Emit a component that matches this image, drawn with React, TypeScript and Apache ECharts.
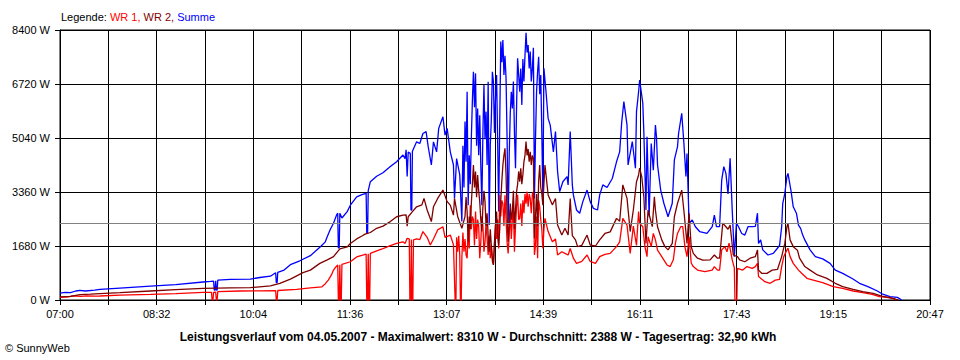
import React, { useEffect, useRef } from "react";
import * as echarts from "echarts";

// x = minutes after 07:00, y = power in W
const timeLabels = ["07:00", "08:32", "10:04", "11:36", "13:07", "14:39", "16:11", "17:43", "19:15", "20:47"];
const SPAN_MINUTES = 827; // 07:00 -> 20:47
const GRID_STEPS = 18;
const Y_MAX = 8400;
const Y_STEP = 1680;
const AVERAGE_W = 2388;
const legendText = ["Legende: ", "WR 1, ", "WR 2, ", "Summe"];
const footerTitle =
  "Leistungsverlauf vom 04.05.2007 - Maximalwert: 8310 W - Durchschnitt: 2388 W - Tagesertrag: 32,90 kWh";
const copyright = "© SunnyWeb";

const wr1: [number, number][] = [
  [0, 85], [8, 95], [12, 130], [20, 110], [25, 130], [33, 120], [38, 125], [57, 150], [86, 175], [110, 200], [136, 235],
  [144, 240], [144.6, 0], [145.4, 0], [146, 240], [148, 245], [148.6, 0], [149.4, 0], [150, 260],
  [171, 280], [190, 285], [205, 290], [205.6, 0], [206.4, 0], [207, 295], [225, 330], [238, 380], [249, 410], [252, 500], [255, 620], [258, 780], [260, 930], [262, 1020], [264, 1090],
  [264.6, 0], [265.4, 0], [266, 1100], [266.6, 0], [267.4, 0], [268, 1110], [276, 1190], [282, 1340], [291, 1430],
  [291.6, 0], [292.4, 0], [293, 1440], [293.6, 0], [294.4, 0], [295, 1450], [301, 1530], [307, 1600], [314, 1690], [320, 1760], [326, 1810], [328, 1760], [330, 1920], [332, 1900],
  [332.6, 0], [333.4, 0], [334, 1880], [334.6, 0], [335.4, 0], [336, 1870], [339, 1900], [342, 1880], [345, 2130], [349, 1950], [352, 1710], [355, 1900], [359, 2180], [364, 2280], [366, 1950], [371, 2020], [374, 1720],
  [375.6, 0], [376.4, 0], [377, 1950], [378, 1500], [379, 2000], [380, 1400], [380.6, 0], [381.4, 0], [382, 1300], [383, 2100], [384, 1500], [385, 1900], [386, 1400], [387, 1300], [388, 2200], [389, 1600], [390, 2950], [391, 2200], [392, 2600], [393, 2500], [394, 1700], [395, 2750], [396, 1900], [397, 2500], [398, 2300], [399, 1300], [400, 1800], [401, 2600], [402, 2300], [403, 1500], [404, 1800], [405, 2400], [406, 1900], [407, 1400], [408, 2000], [409, 1300], [410, 1700], [411, 1200], [412, 1100], [413, 1700], [414, 2400], [415, 1900], [416, 2500], [417, 1600], [418, 3270], [419, 2600], [420, 3100], [421, 3000], [422, 2300], [423, 3260], [424, 2500], [425, 1800], [426, 1450], [427, 2000], [428, 2800], [429, 1900], [430, 2500], [431, 2900], [432, 1500], [433, 2300], [434, 2900], [435, 3270], [436, 2500], [437, 2540], [438, 3000], [439, 2300], [440, 3100], [441, 2700], [442, 3300], [443, 3000], [444, 3370], [445, 2900], [446, 3300], [447, 3160], [448, 2700], [449, 3300], [450, 3370], [451, 1400], [452, 1700], [453, 2600], [454, 1300], [455, 3100], [456, 2900], [457, 2500], [458, 2200], [459, 1600], [460, 2200], [461, 2540], [464, 2130], [468, 1810], [471, 1900], [473, 1400], [477, 1500], [480, 1450], [483, 1400], [485, 1600], [488, 1300], [491, 1140], [496, 1200], [501, 1400], [504, 1200], [509, 1140], [513, 1350], [518, 1420], [523, 1450], [529, 1660], [532, 1810], [535, 2540], [539, 2330], [542, 1450], [545, 2300], [548, 1700], [550, 2750], [551, 2385], [554, 2280], [556, 1660], [558, 1350], [559, 1970], [562, 1660], [564, 2070], [566, 1870], [568, 1550], [572, 1350], [577, 1090], [580, 1040], [583, 1250], [585, 1770], [587, 2070], [590, 2280], [592, 2280], [594, 1660], [596, 1350], [598, 1970], [600, 1150], [602, 1040], [606, 930], [613, 880], [620, 930], [622, 1040], [625, 930], [627, 930], [629, 1560], [632, 1660], [634, 1500], [636, 1770], [639, 1250], [641, 1000], [641.6, 0], [643.4, 0], [644, 985], [649, 930], [653, 1040], [658, 985], [661, 1040], [663, 1140], [664, 730], [670, 570], [675, 520], [680, 620], [684, 640], [686, 1040], [688, 1350], [691, 1560], [692, 1610], [694, 1350], [697, 1140], [702, 930], [705, 830], [710, 674], [716, 622], [725, 540], [735, 415], [744, 363], [754, 280], [763, 228], [772, 176], [779, 104], [786, 83], [792, 41], [795, 0],
];

const wr2: [number, number][] = [
  [0, 100], [10, 110], [19, 170], [29, 180], [38, 200], [57, 230], [86, 280], [110, 320], [136, 360], [162, 380], [181, 385], [200, 440], [209, 520], [219, 650], [231, 850], [238, 930], [247, 1140], [254, 1250], [260, 1350], [266, 1590], [273, 1650], [276, 1760], [282, 1900], [287, 1990], [290, 2050], [295, 2100], [301, 2230], [307, 2300], [314, 2440], [320, 2590], [326, 2640], [329, 2650], [330, 2300], [331, 2590], [335, 2750], [339, 2900], [344, 2960], [346, 3160], [349, 2800], [353, 2440], [355, 2900], [359, 3160], [364, 3420], [368, 3060], [371, 2950], [374, 2640], [375, 3160], [378, 2600], [382, 2230],
  [385, 2600], [386, 3200], [387, 2750], [388, 1810], [389, 2600], [390, 2200], [391, 3000], [392, 3600], [393, 4200], [394, 3500], [395, 4000], [396, 3200], [397, 3890], [398, 3400], [399, 3060], [400, 2500], [401, 2130], [402, 2900], [403, 3400], [404, 3060], [405, 2300], [406, 2700], [407, 2000], [408, 1500], [409, 2200], [410, 1700], [411, 1300], [412, 1090], [413, 1800], [414, 2300], [415, 2750], [416, 2000], [417, 1700], [418, 2200], [419, 3100], [420, 3700], [421, 4200], [422, 4500], [423, 4720], [424, 3900], [425, 2600], [426, 1810], [427, 2400], [428, 3000], [429, 2500], [430, 2750], [431, 3400], [432, 2200], [433, 2800], [434, 3370], [435, 3600], [436, 4000], [437, 3680], [438, 4100], [439, 3600], [440, 3900], [441, 4300], [442, 4500], [443, 4930], [444, 4500], [445, 4700], [446, 4300], [447, 4610], [448, 4200], [449, 4500], [450, 4400], [451, 1920], [452, 2600], [453, 3300], [454, 2300], [455, 3700], [456, 4200], [457, 3500], [458, 3300], [459, 2950], [460, 3600], [461, 4200],
  [464, 3270], [468, 2960], [471, 3160], [473, 2330], [477, 2020], [480, 2230], [483, 2020], [485, 3160], [487, 2000], [490, 1870], [492, 1660], [496, 1700], [501, 2020], [504, 1710], [509, 1680], [513, 1870], [518, 2070], [523, 2120], [529, 2540], [532, 2450], [535, 3580], [539, 3160], [542, 2130], [545, 2800], [548, 3680], [550, 3890], [551, 4100], [553, 3840], [555, 3210], [557, 1760], [559, 2800], [563, 2280], [565, 3210], [566, 2800], [568, 2280], [572, 1870], [575, 1660], [578, 1560], [582, 1760], [584, 2590], [587, 3010], [589, 3210], [591, 3420], [593, 2800], [596, 1760], [598, 2700], [600, 1660], [602, 1450], [606, 1300], [611, 1240], [618, 1250], [622, 1400], [625, 1300], [627, 1300], [630, 2390], [633, 2280], [635, 2200], [637, 2330], [640, 1400], [644, 1350], [646, 1250], [651, 1190], [656, 1300], [661, 1350], [663, 1560], [664, 930], [667, 830], [672, 830], [677, 930], [682, 950], [686, 1350], [689, 1760], [691, 2280], [692, 2385], [694, 1870], [697, 1660], [701, 1550], [703, 1300], [708, 1040], [713, 930], [720, 780], [729, 674], [737, 520], [744, 415], [754, 332], [763, 259], [773, 207], [781, 124], [789, 73], [794, 31], [797, 0],
];

const summe: [number, number][] = [
  [0, 215], [5, 240], [10, 230], [15, 280], [19, 300], [24, 280], [33, 310], [38, 330], [57, 370], [86, 430], [110, 480], [136, 560], [143, 580], [146, 590], [146.6, 310], [147.4, 310], [148, 600], [148.6, 310], [149.4, 310], [150, 620], [162, 640], [181, 650], [190, 700], [200, 740], [205, 850], [205.6, 540], [206.4, 540], [207, 860], [213, 930], [219, 1100], [228, 1220], [238, 1380], [247, 1640], [252, 1800], [254, 1970], [257, 2200], [260, 2390], [263, 2650], [264, 2700], [264.6, 1620], [265.4, 1620], [266, 2700], [268, 2550], [273, 2750], [276, 2950], [282, 3210], [287, 3280], [291, 3320], [291.6, 2070], [292.4, 2070], [293, 3400], [295, 3680], [301, 3850], [307, 3960], [314, 4150], [320, 4300], [326, 4510], [328, 4400], [329, 4670], [330, 3840], [331, 4600], [333, 4560], [333.6, 2800], [334.4, 2800], [335, 4630], [339, 4920], [342, 4870], [345, 5180], [348, 5240], [350, 4770], [353, 4200], [355, 4920], [358, 4610], [360, 5340], [364, 5700], [366, 5130], [368, 5340], [371, 4610], [374, 4200], [375, 3160], [377, 4400], [380, 3890],
  [382, 2440], [383, 4800], [384, 3500], [385, 5550], [386, 4300], [387, 6480], [388, 2950], [389, 4500], [390, 3600], [391, 5030], [392, 6200], [393, 7100], [394, 6000], [395, 7050], [396, 4800], [397, 5960], [398, 4500], [399, 5750], [400, 4200], [401, 2950], [402, 5200], [403, 6690], [404, 5000], [405, 5860], [406, 4200], [407, 6790], [408, 2330], [409, 4800], [410, 5600], [411, 7100], [412, 6790], [413, 5200], [414, 6300], [415, 7000], [416, 5000], [417, 2750], [418, 5500], [419, 8040], [420, 7400], [421, 8090], [422, 7000], [423, 7600], [424, 6900], [425, 5000], [426, 2330], [427, 4500], [428, 5800], [429, 6480], [430, 5960], [431, 6800], [432, 5200], [433, 4100], [434, 6000], [435, 7520], [436, 7000], [437, 6480], [438, 7200], [439, 6070], [440, 7500], [441, 6800], [442, 7600], [443, 8310], [444, 7700], [445, 7930], [446, 7200], [447, 7730], [448, 6800], [449, 7210], [450, 7850], [451, 3160], [452, 5000], [453, 6480], [454, 7100], [455, 7570], [456, 6400], [457, 7000], [458, 5200], [459, 3160], [460, 7210],
  [462, 6480], [464, 5650], [466, 5440], [469, 4610], [471, 5240], [473, 3990], [475, 3370], [478, 3680], [482, 3840], [483, 3580], [485, 5240], [487, 3580], [488, 3270], [491, 2800], [494, 2700], [497, 3060], [501, 3420], [504, 3060], [507, 2850], [511, 2800], [513, 3270], [516, 3580], [520, 3500], [525, 3780], [529, 4300], [532, 4610], [534, 5550], [536, 6170], [539, 5440], [540, 4200], [544, 4930], [547, 4100], [548, 5860], [550, 6480], [551, 6840], [554, 6120], [555, 5200], [557, 2800], [558, 5080], [560, 2600], [562, 4870], [564, 4040], [566, 5440], [567, 5080], [568, 4200], [571, 3420], [574, 3010], [578, 2590], [582, 3010], [584, 4360], [587, 4770], [588, 5180], [591, 5810], [593, 4900], [595, 3840], [596, 4560], [598, 2390], [601, 2490], [604, 2280], [608, 2130], [615, 2070], [620, 2280], [622, 2640], [624, 2280], [627, 2280], [629, 3730], [631, 4150], [633, 3940], [635, 3300], [637, 4410], [639, 2800], [641, 1350], [643, 2390], [645, 2280], [648, 2070], [651, 2020], [654, 2280], [658, 2280], [661, 2290], [663, 2700], [664, 1760], [666, 1870], [668, 1560], [673, 1400], [678, 1450], [682, 1610], [684, 1700], [686, 2280], [687, 3000], [689, 3320], [691, 3840], [692, 3940], [695, 3370], [697, 2900], [700, 2700], [702, 2330], [704, 2230], [706, 2020], [708, 1870], [713, 1560], [718, 1350], [725, 1280], [732, 1140], [737, 930], [744, 830], [753, 670], [760, 520], [768, 415], [777, 280], [782, 180], [789, 104], [796, 83], [799, 21], [800, 0],
];

const FONT = '"Liberation Sans", Arial, sans-serif';

export default function App() {
  const ref = useRef<HTMLDivElement>(null);

  useEffect(() => {
    if (!ref.current) return;
    const chart = echarts.init(ref.current, undefined, { renderer: "svg" });
    const step = SPAN_MINUTES / GRID_STEPS;
    const lineSeries = (name: string, data: [number, number][], color: string, extra: any = {}) => ({
      name,
      type: "line",
      data,
      symbol: "none",
      showSymbol: false,
      silent: true,
      animation: false,
      lineStyle: { color, width: 1.3 },
      itemStyle: { color },
      ...extra,
    });

    chart.setOption({
      animation: false,
      backgroundColor: "#ffffff",
      grid: {
        left: 60,
        top: 30,
        right: 30,
        bottom: 60,
        show: true,
        borderColor: "#000",
        borderWidth: 1,
      },
      xAxis: {
        type: "value",
        min: 0,
        max: SPAN_MINUTES,
        interval: step,
        axisLine: { show: true, lineStyle: { color: "#000", width: 1 } },
        axisTick: { show: true, length: 5, lineStyle: { color: "#000", width: 1 } },
        splitLine: { show: true, lineStyle: { color: "#000", width: 1 } },
        axisLabel: {
          color: "#000",
          fontSize: 11,
          fontFamily: FONT,
          margin: 8,
          showMinLabel: true,
          showMaxLabel: true,
          formatter: (v: number) => {
            const i = Math.round(v / step);
            return i % 2 === 0 ? timeLabels[i / 2] ?? "" : "";
          },
        },
      },
      yAxis: {
        type: "value",
        min: 0,
        max: Y_MAX,
        interval: Y_STEP,
        axisLine: { show: true, lineStyle: { color: "#000", width: 1 } },
        axisTick: { show: true, length: 5, lineStyle: { color: "#000", width: 1 } },
        splitLine: { show: true, lineStyle: { color: "#000", width: 1 } },
        axisLabel: {
          color: "#000",
          fontSize: 11,
          fontFamily: FONT,
          margin: 10,
          formatter: (v: number) => `${v} W`,
        },
      },
      series: [
        lineSeries("Summe", summe, "#0000ff", {
          markLine: {
            silent: true,
            symbol: "none",
            animation: false,
            label: { show: false },
            lineStyle: { color: "#808080", width: 1, type: "solid", opacity: 1 },
            data: [{ yAxis: AVERAGE_W }],
          },
        }),
        lineSeries("WR 1", wr1, "#ff0000"),
        lineSeries("WR 2", wr2, "#800000"),
      ],
      graphic: [
        {
          type: "text",
          left: 61,
          top: 11,
          style: {
            text: `{k|${legendText[0]}}{a|${legendText[1]}}{b|${legendText[2]}}{c|${legendText[3]}}`,
            font: `11px ${FONT}`,
            rich: {
              k: { fill: "#000", color: "#000", fontSize: 11, fontFamily: FONT },
              a: { fill: "#ff0000", color: "#ff0000", fontSize: 11, fontFamily: FONT },
              b: { fill: "#800000", color: "#800000", fontSize: 11, fontFamily: FONT },
              c: { fill: "#0000ff", color: "#0000ff", fontSize: 11, fontFamily: FONT },
            },
          },
        },
        {
          type: "text",
          x: 478,
          y: 337,
          style: {
            text: footerTitle,
            fill: "#000",
            font: `bold 12px ${FONT}`,
            align: "center",
            verticalAlign: "middle",
            textAlign: "center",
            textVerticalAlign: "middle",
          },
        },
        {
          type: "text",
          x: 5,
          y: 348,
          style: {
            text: copyright,
            fill: "#000",
            font: `11px ${FONT}`,
            align: "left",
            verticalAlign: "middle",
            textAlign: "left",
            textVerticalAlign: "middle",
          },
        },
      ],
    });

    return () => chart.dispose();
  }, []);

  return (
    <div
      ref={ref}
      style={{ position: "fixed", left: 0, top: 0, width: 960, height: 360, background: "#fff" }}
    />
  );
}
